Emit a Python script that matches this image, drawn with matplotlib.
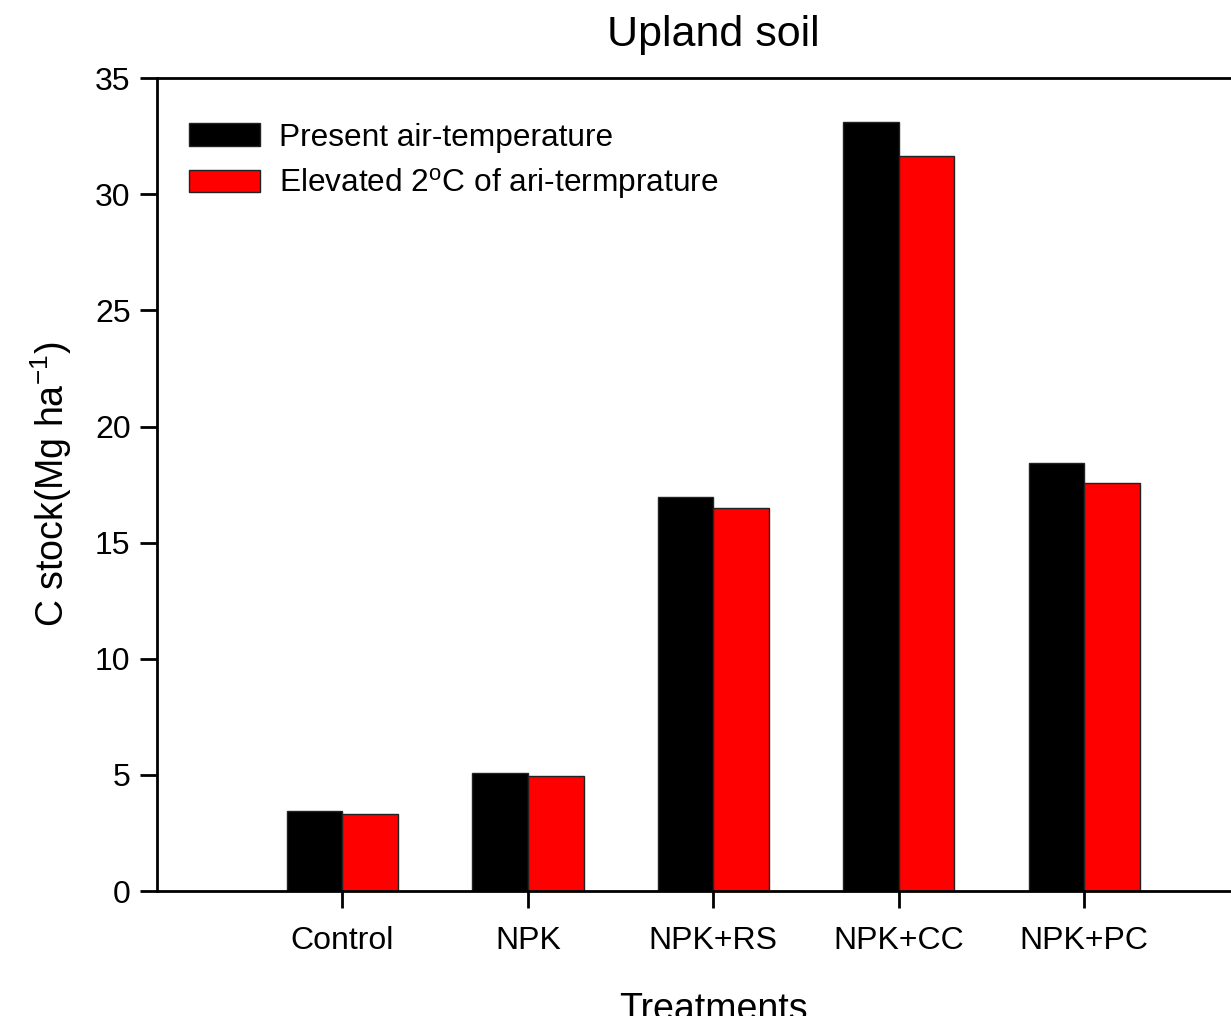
import numpy as np
import matplotlib
matplotlib.use("Agg")
import matplotlib.pyplot as plt

plt.rcParams['font.family'] = ['Liberation Sans', 'DejaVu Sans']
plt.rcParams['mathtext.fontset'] = 'custom'
plt.rcParams['mathtext.rm'] = 'Liberation Sans'
plt.rcParams['mathtext.it'] = 'Liberation Sans:italic'
plt.rcParams['mathtext.default'] = 'regular'

treatments = ['Control', 'NPK', 'NPK+RS', 'NPK+CC', 'NPK+PC']
present = [3.45, 5.08, 16.95, 33.1, 18.42]
elevated = [3.32, 4.95, 16.5, 31.65, 17.56]

fig = plt.figure(figsize=(12.31, 10.16), dpi=100)
ax = fig.add_axes([0.1275, 0.123, 0.904, 0.800])

x = np.arange(1, len(treatments) + 1)
w = 0.3
ax.bar(x - w / 2, present, w, color='black', edgecolor='#222222', lw=1,
       label='Present air-temperature')
ax.bar(x + w / 2, elevated, w, color='#ff0000', edgecolor='#222222', lw=1,
       label='Elevated 2$^{o}$C of ari-termprature')

ax.set_xlim(0, 6)
ax.set_ylim(0, 35)
ax.set_xticks(x)
ax.set_xticklabels(treatments)
ax.set_yticks(np.arange(0, 36, 5))
ax.tick_params(axis='both', direction='out', labelsize=23, width=2, length=12, pad=7)
ax.tick_params(axis='x', pad=13)
for s in ax.spines.values():
    s.set_linewidth(2)

ax.set_title('Upland soil', fontsize=31, pad=23)
ax.set_xlabel('Treatments', fontsize=27, labelpad=26)
ax.set_ylabel('C stock(Mg ha$^{-1}$)', fontsize=27, labelpad=15)

ax.legend(loc='upper left', bbox_to_anchor=(0.029, 0.945), frameon=False,
          fontsize=22.8, handlelength=2.24, handleheight=0.73, handletextpad=0.6,
          labelspacing=0.42, borderpad=0, borderaxespad=0)

fig.savefig('out.png', dpi=100)
